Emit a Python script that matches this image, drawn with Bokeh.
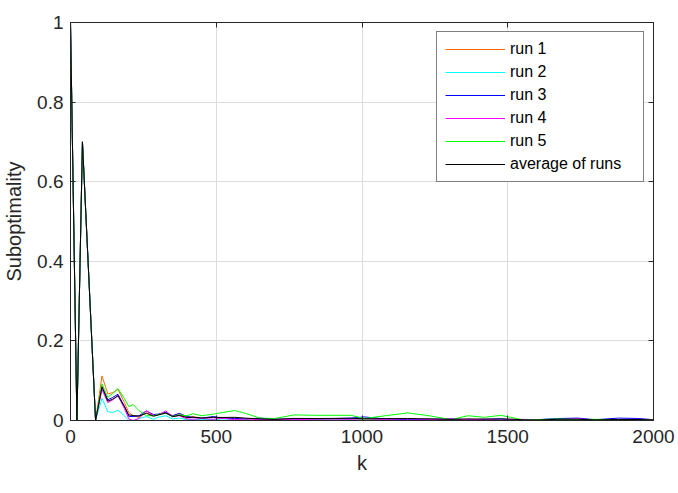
from bokeh.plotting import figure
from bokeh.models import FixedTicker, LinearAxis, Legend, LegendItem, Range1d
from bokeh.embed import file_html
from bokeh.resources import INLINE
import numpy as np

k = [0, 22, 41, 86, 108, 128, 145, 163, 185, 200, 215, 235, 260, 285, 300, 327, 350, 373,
     400, 420, 450, 490, 520, 563, 600, 650, 700, 767, 850, 962, 1007, 1080, 1157, 1230,
     1305, 1363, 1420, 1476, 1510, 1555, 1600, 1670, 1740, 1800, 1880, 1950, 2000]

head = [1.0, 0.0, 0.70, 0.0]

run1 = head + [0.112, 0.067, 0.070, 0.078, 0.045, 0.020, 0.012, 0.008, 0.020, 0.012, 0.015, 0.020,
               0.012, 0.015, 0.008, 0.010, 0.006, 0.008, 0.005, 0.006, 0.003, 0.004, 0.002, 0.004,
               0.003, 0.004, 0.002, 0.003, 0.002, 0.003, 0.002, 0.003, 0.002, 0.001, 0.003, 0.002,
               0.001, 0.002, 0.003, 0.001, 0.002, 0.001, 0.001]
run2 = head + [0.056, 0.022, 0.020, 0.026, 0.012, 0.000, 0.000, 0.005, 0.010, 0.003, 0.008, 0.012,
               0.004, 0.006, 0.002, 0.003, 0.002, 0.003, 0.001, 0.002, 0.001, 0.002, 0.001, 0.002,
               0.001, 0.002, 0.001, 0.002, 0.001, 0.001, 0.002, 0.001, 0.002, 0.001, 0.002, 0.001,
               0.001, 0.002, 0.001, 0.001, 0.002, 0.001, 0.001]
run3 = head + [0.085, 0.052, 0.058, 0.066, 0.035, 0.010, 0.010, 0.012, 0.024, 0.015, 0.016, 0.020,
               0.012, 0.018, 0.010, 0.008, 0.006, 0.010, 0.006, 0.005, 0.004, 0.006, 0.003, 0.004,
               0.004, 0.006, 0.009, 0.004, 0.002, 0.003, 0.004, 0.002, 0.003, 0.004, 0.002, 0.001,
               0.002, 0.005, 0.006, 0.002, 0.006, 0.005, 0.002]
run4 = head + [0.078, 0.045, 0.052, 0.062, 0.030, 0.004, 0.000, 0.005, 0.025, 0.012, 0.014, 0.024,
               0.010, 0.012, 0.004, 0.003, 0.005, 0.003, 0.006, 0.002, 0.004, 0.002, 0.003, 0.002,
               0.004, 0.003, 0.005, 0.002, 0.001, 0.002, 0.004, 0.002, 0.003, 0.001, 0.002, 0.003,
               0.001, 0.002, 0.004, 0.001, 0.002, 0.003, 0.002]
run5 = head + [0.092, 0.058, 0.068, 0.080, 0.055, 0.035, 0.040, 0.025, 0.012, 0.012, 0.015, 0.018,
               0.010, 0.014, 0.012, 0.017, 0.012, 0.016, 0.020, 0.025, 0.018, 0.006, 0.005, 0.014,
               0.013, 0.013, 0.005, 0.012, 0.019, 0.012, 0.002, 0.012, 0.008, 0.013, 0.008, 0.001,
               0.002, 0.004, 0.002, 0.003, 0.001, 0.002, 0.001]

runs = [run1, run2, run3, run4, run5]
names = ["run 1", "run 2", "run 3", "run 4", "run 5"]
colors = ["#ff6a00", "#00ffff", "#0000ff", "#ff00ff", "#00ff00"]
average = list(np.mean(np.array(runs), axis=0))

x_ticks = [0, 500, 1000, 1500, 2000]
y_ticks = [0, 0.2, 0.4, 0.6, 0.8, 1]
y_tick_labels = ["0", "0.2", "0.4", "0.6", "0.8", "1"]

FONT = "Liberation Sans"
TXT = "#262626"

p = figure(width=678, height=493, output_backend="svg", toolbar_location=None,
           x_range=Range1d(0, 2000), y_range=Range1d(0, 1),
           min_border_left=69, min_border_right=25, min_border_top=22, min_border_bottom=73,
           x_axis_label="k", y_axis_label="Suboptimality")
p.background_fill_color = "white"
p.border_fill_color = "white"
p.outline_line_color = "#262626"
p.outline_line_width = 1

bottom_ax = p.below[0]
left_ax = p.left[0]

top_ax = LinearAxis(ticker=FixedTicker(ticks=x_ticks),
                    major_label_overrides={t: "" for t in x_ticks}, major_label_standoff=0)
right_ax = LinearAxis(ticker=FixedTicker(ticks=y_ticks),
                      major_label_overrides={t: "" for t in y_ticks}, major_label_standoff=0)
p.add_layout(top_ax, "above")
p.add_layout(right_ax, "right")

for ax in (bottom_ax, left_ax, top_ax, right_ax):
    ax.major_tick_in = 5
    ax.major_tick_out = 0
    ax.minor_tick_line_color = None
    ax.axis_line_color = "#262626"
    ax.major_tick_line_color = "#262626"

for ax in (bottom_ax, left_ax):
    ax.major_label_text_font = FONT
    ax.major_label_text_font_size = "19px"
    ax.major_label_text_color = TXT
    ax.axis_label_text_font = FONT
    ax.axis_label_text_font_size = "20px"
    ax.axis_label_text_font_style = "normal"
    ax.axis_label_text_color = TXT

bottom_ax.ticker = FixedTicker(ticks=x_ticks)
left_ax.ticker = FixedTicker(ticks=y_ticks)
left_ax.major_label_overrides = {t: s for t, s in zip(y_ticks, y_tick_labels)}
bottom_ax.major_label_standoff = 9
left_ax.major_label_standoff = 7
bottom_ax.axis_label_standoff = 6
left_ax.axis_label_standoff = 9

p.xgrid.ticker = FixedTicker(ticks=x_ticks)
p.ygrid.ticker = FixedTicker(ticks=y_ticks)
p.xgrid.grid_line_color = "#dcdcdc"
p.ygrid.grid_line_color = "#dcdcdc"

items = []
for r, n, c in zip(runs, names, colors):
    gl = p.line(k, r, line_color=c, line_width=1)
    items.append(LegendItem(label=n, renderers=[gl]))
ga = p.line(k, average, line_color="black", line_width=1)
items.append(LegendItem(label="average of runs", renderers=[ga]))

legend = Legend(items=items, location="top_right")
legend.border_line_color = "black"
legend.border_line_width = 1
legend.label_text_font = FONT
legend.label_text_font_size = "16px"
legend.label_text_color = "black"
legend.glyph_width = 60
legend.glyph_height = 18
legend.label_height = 18
legend.label_width = 125
legend.spacing = 5
legend.padding = 8
legend.margin = 9
legend.label_standoff = 5
legend.background_fill_alpha = 1
p.add_layout(legend)

open("out.html", "w").write(file_html(p, INLINE))
